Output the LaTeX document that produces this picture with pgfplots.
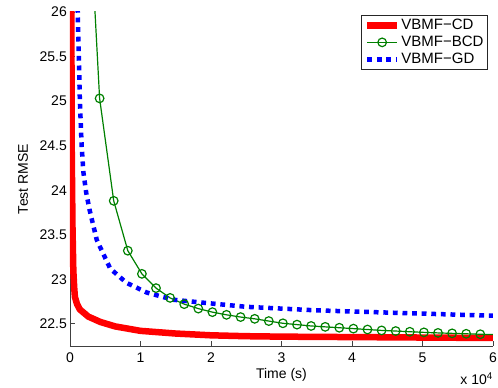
\documentclass[border=0pt]{standalone}
\usepackage{pgfplots}
\pgfplotsset{compat=1.18}
\usepackage{fontspec}
\setmainfont{Liberation Sans}
\definecolor{mred}{rgb}{1,0,0}
\definecolor{mgreen}{rgb}{0,0.5,0}
\definecolor{mblue}{rgb}{0,0,1}
\begin{document}
\begin{tikzpicture}
\path[use as bounding box] (0,0) rectangle (498pt,388pt);
\begin{axis}[
  at={(70pt,42pt)}, anchor=south west,
  scale only axis, width=423pt, height=334pt,
  xmin=0, xmax=60000, ymin=22.25, ymax=26,
  xtick={0,10000,...,60000}, ytick={22.5,23,...,26},
  scaled x ticks=base 10:-4,
  xtick scale label code/.code={},
  axis x line*=bottom, axis y line*=left,
  axis line style={black!75, line width=0.8pt, -},
  tick style={black!75, line width=0.8pt},
  tick align=inside, major tick length=5pt,
  font=\fontsize{14}{16}\selectfont,
  /pgf/number format/assume math mode=true,
  xticklabel style={anchor=base, yshift=-17pt, inner sep=0pt},
  yticklabel style={inner sep=0pt, xshift=-3pt},
  xlabel={Time (s)}, ylabel={Test RMSE},
  every axis x label/.style={at={(axis description cs:0.5,-0.0988)}, anchor=base},
  every axis y label/.style={at={(axis description cs:-0.0993,0.5)}, rotate=90, anchor=base},
  legend style={at={(0.988,0.991)}, anchor=north east, draw=black!85, line width=0.8pt, fill=white,
    inner xsep=3pt, inner ysep=3pt, row sep=3pt, nodes={inner sep=1pt}, cells={anchor=west},
    font=\fontsize{15}{18}\selectfont},
  legend image code/.code={\draw[#1, mark indices={2}] plot coordinates {(0pt,0pt) (15pt,0pt) (30pt,0pt)};},
]
\addplot[mred, line width=6.5pt, line join=round] coordinates {
(150,27.5) (240,24.5) (350,23.6) (470,23.1) (600,22.9) (700,22.8) (1000,22.72) (1400,22.66)
(2600,22.58) (4300,22.52) (6400,22.47) (10000,22.42) (15000,22.39) (20000,22.37)
(25000,22.36) (30000,22.355) (40000,22.35) (50000,22.345) (60000,22.34)
};
\addlegendentry{VBMF−CD}
\addplot[mgreen, line width=1.2pt, mark=o, mark size=4.3pt, mark indices={1,...,28}] coordinates {
(2200,28.0) (4200,25.03) (6200,23.88) (8200,23.32) (10200,23.06) (12200,22.90) (14200,22.79)
(16200,22.72) (18200,22.67) (20200,22.63) (22200,22.60) (24200,22.575) (26200,22.555)
(28200,22.53) (30200,22.505) (32200,22.49) (34200,22.475) (36200,22.465) (38200,22.455)
(40200,22.445) (42200,22.435) (44200,22.425) (46200,22.418) (48200,22.41) (50200,22.403)
(52200,22.397) (54200,22.392) (56200,22.387) (58200,22.382) (60000,22.378)
};
\addlegendentry{VBMF−BCD}
\addplot[mblue, line width=4.5pt, dash pattern=on 4.8pt off 4.8pt] coordinates {
(900,26.8) (1100,26.0) (1250,25.5) (1400,25.0) (1650,24.5) (1900,24.2) (2300,23.97)
(2800,23.77) (3800,23.44) (5700,23.12) (8000,22.96) (10900,22.85) (14600,22.77)
(18400,22.74) (25000,22.69) (35000,22.65) (47200,22.62) (60000,22.59)
};
\addlegendentry{VBMF−GD}
\end{axis}
\node[anchor=base east, inner sep=0pt, font=\fontsize{14}{16}\selectfont] at ([yshift=-39pt]current axis.south east) {x 10\textsuperscript{4}};
\end{tikzpicture}
\end{document}
